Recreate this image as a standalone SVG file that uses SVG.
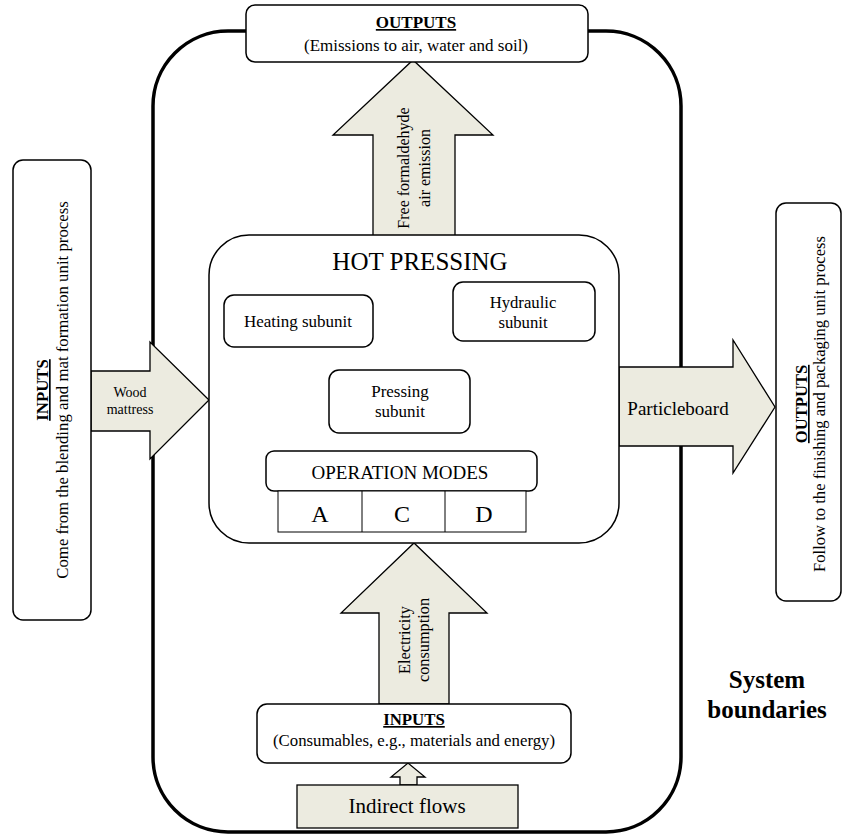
<svg xmlns="http://www.w3.org/2000/svg" width="842" height="836" viewBox="0 0 842 836" font-family="'Liberation Serif', 'Times New Roman', serif">
<style>
text{font-family:'Liberation Serif','Times New Roman',serif;fill:#000}
.box{fill:#fff;stroke:#000;stroke-width:1.5}
.arr{fill:#ecebe0;stroke:#000;stroke-width:1.3;stroke-linejoin:miter}
.b{font-weight:bold;text-decoration:underline}
.m{text-anchor:middle}
</style>
<rect width="842" height="836" fill="#fff"/>
<g id="system-boundary">
<rect x="153" y="31" width="528" height="801" rx="75" ry="75" fill="none" stroke="#000" stroke-width="3.5"/>
<text class="m" x="767" y="688" font-size="25" font-weight="bold">System</text>
<text class="m" x="767" y="718" font-size="25" font-weight="bold">boundaries</text>
</g>
<g id="connectors">
<path class="arr" d="M373,236 V135 H333 L413,60 L493,135 H455 V236 Z"/>
<text transform="translate(409,168) rotate(-90)" class="m" font-size="16">Free formaldehyde</text>
<text transform="translate(430,168) rotate(-90)" class="m" font-size="16">air emission</text>
<path class="arr" d="M91,371 H150 V342 L209,400 L150,459 V431 H91 Z"/>
<text class="m" x="130" y="397" font-size="14">Wood</text>
<text class="m" x="130" y="414" font-size="14">mattress</text>
<path class="arr" d="M619,367 H733 V340 L775,407 L733,473 V446 H619 Z"/>
<text class="m" x="678" y="415" font-size="19">Particleboard</text>
<path class="arr" d="M379,704 V613 H341 L414,543 L487,613 H449 V704 Z"/>
<text transform="translate(410,640) rotate(-90)" class="m" font-size="16.3">Electricity</text>
<text transform="translate(429,640) rotate(-90)" class="m" font-size="16.3">consumption</text>
<path class="arr" d="M400,785 V777 H391 L408,763 L425,777 H417 V785 Z"/>
</g>
<g id="outputs-top">
<rect class="box" x="246" y="5" width="342" height="57" rx="9"/>
<text class="m b" x="416" y="28" font-size="17">OUTPUTS</text>
<text class="m" x="416" y="51" font-size="17">(Emissions to air, water and soil)</text>
</g>
<g id="inputs-left">
<rect class="box" x="13" y="160" width="78" height="460" rx="10"/>
<text transform="translate(48,390) rotate(-90)" class="m b" font-size="16.8">INPUTS</text>
<text transform="translate(68,390) rotate(-90)" class="m" font-size="16.8">Come from the blending and mat formation unit process</text>
</g>
<g id="outputs-right">
<rect class="box" x="776" y="203" width="65" height="398" rx="10"/>
<text transform="translate(807,404) rotate(-90)" class="m b" font-size="16.6">OUTPUTS</text>
<text transform="translate(825,404) rotate(-90)" class="m" font-size="16.6">Follow to the finishing and packaging unit process</text>
</g>
<g id="hot-pressing">
<rect class="box" x="209" y="235" width="410" height="308" rx="40"/>
<text class="m" x="420" y="270" font-size="25">HOT PRESSING</text>
</g>
<g id="heating-subunit">
<rect class="box" x="224" y="295" width="149" height="52" rx="10"/>
<text class="m" x="298" y="327" font-size="17">Heating subunit</text>
</g>
<g id="hydraulic-subunit">
<rect class="box" x="453" y="282" width="142" height="59" rx="10"/>
<text class="m" x="523" y="308" font-size="16.7">Hydraulic</text>
<text class="m" x="523" y="328" font-size="16.7">subunit</text>
</g>
<g id="pressing-subunit">
<rect class="box" x="329" y="370" width="141" height="63" rx="10"/>
<text class="m" x="400" y="397" font-size="17">Pressing</text>
<text class="m" x="400" y="417" font-size="17">subunit</text>
</g>
<g id="operation-modes">
<rect class="box" x="266" y="451" width="271" height="40" rx="8"/>
<text class="m" x="400" y="479" font-size="19">OPERATION MODES</text>
<rect x="278" y="491" width="248" height="41" fill="#fff" stroke="#000" stroke-width="1"/>
<line x1="362" y1="491" x2="362" y2="532" stroke="#000" stroke-width="1"/>
<line x1="445" y1="491" x2="445" y2="532" stroke="#000" stroke-width="1"/>
<text class="m" x="320" y="522" font-size="24">A</text>
<text class="m" x="402" y="522" font-size="24">C</text>
<text class="m" x="484" y="522" font-size="24">D</text>
</g>
<g id="inputs-bottom">
<rect class="box" x="257" y="704" width="314" height="59" rx="10"/>
<text class="m b" x="414" y="725" font-size="16.8">INPUTS</text>
<text class="m" x="414" y="746" font-size="16.8">(Consumables, e.g., materials and energy)</text>
</g>
<g id="indirect-flows">
<rect class="arr" x="297" y="785" width="221" height="43"/>
<text class="m" x="407" y="813" font-size="21">Indirect flows</text>
</g>
</svg>
